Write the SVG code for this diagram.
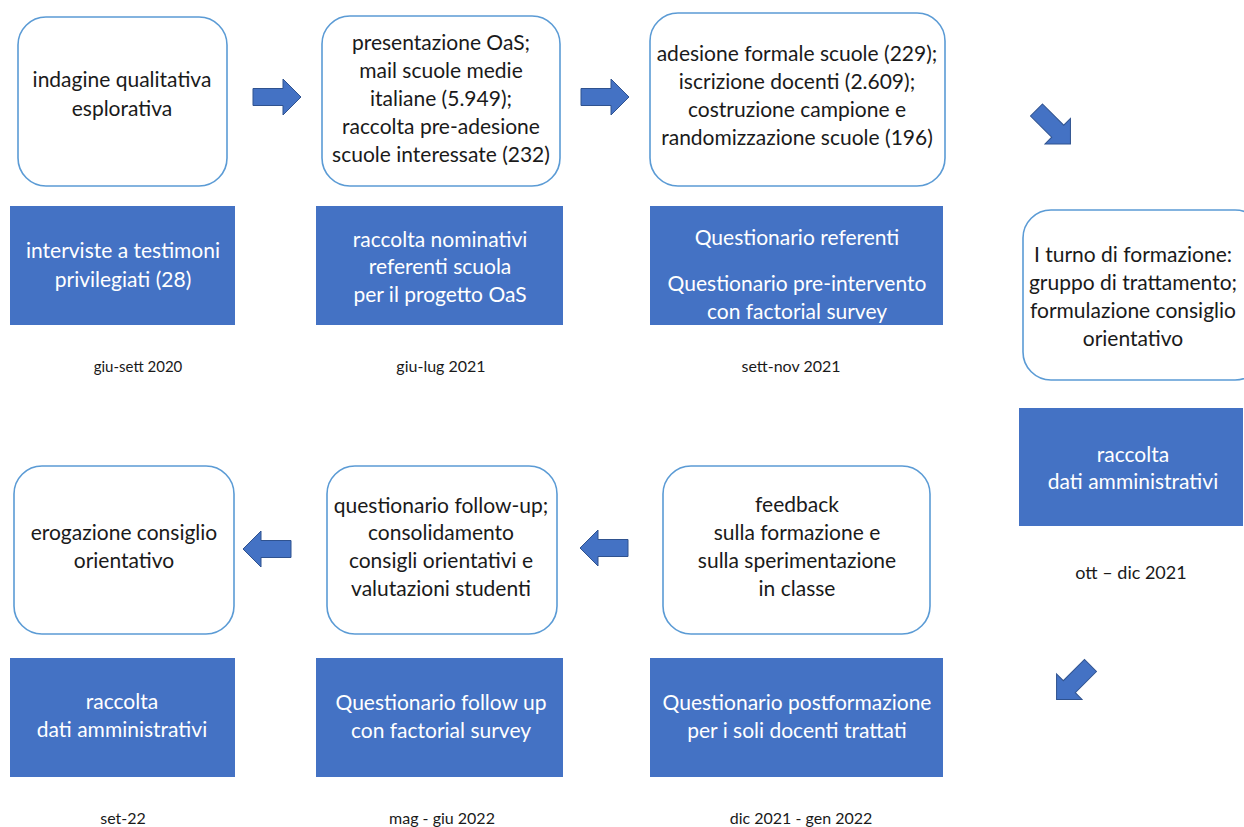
<svg xmlns="http://www.w3.org/2000/svg" width="1244" height="827" viewBox="0 0 1244 827">
  <defs>
    <style>
      .step { fill: #FFFFFF; stroke: #5B9BD5; stroke-width: 1.6; }
      .data { fill: #4472C4; }
      .arrow { fill: #4472C4; stroke: #2F528F; stroke-width: 1; }
      text { font-family: Lato, "Open Sans", "Liberation Sans", sans-serif; text-anchor: middle; }
      .dark { fill: #1A1A1A; font-size: 21px; }
      .light { fill: #FFFFFF; font-size: 21px; }
      .date { fill: #1A1A1A; font-size: 16px; }
    </style>
    <!-- block arrow pointing right, tail centre at origin -->
    <polygon id="blockArrow" points="0,-8.5 30,-8.5 30,-18 48,0 30,18 30,8.5 0,8.5"/>
  </defs>

  <rect width="1244" height="827" fill="#FFFFFF"/>

  <!-- connectors -->
  <g id="connectors">
    <use href="#blockArrow" class="arrow" transform="translate(253,97)"/>
    <use href="#blockArrow" class="arrow" transform="translate(581,97)"/>
    <use href="#blockArrow" class="arrow" transform="translate(1036.5,110) rotate(45)"/>
    <use href="#blockArrow" class="arrow" transform="translate(1090.5,665.5) rotate(135)"/>
    <use href="#blockArrow" class="arrow" transform="translate(628,548) rotate(180)"/>
    <use href="#blockArrow" class="arrow" transform="translate(291,549) rotate(180)"/>
  </g>

  <!-- phase 1: exploratory survey -->
  <g id="phase1">
    <rect class="step" x="18" y="17" width="209" height="169" rx="28"/>
    <text class="dark" x="122" y="87">indagine qualitativa</text>
    <text class="dark" x="122" y="116">esplorativa</text>
    <rect class="data" x="10" y="206" width="225" height="119"/>
    <text class="light" x="123" y="258">interviste a testimoni</text>
    <text class="light" x="123" y="287">privilegiati (28)</text>
    <text class="date" x="138" y="372" style="font-size:15px">giu-sett 2020</text>
  </g>

  <!-- phase 2: presentation and pre-adhesion -->
  <g id="phase2">
    <rect class="step" x="322" y="16" width="238" height="170" rx="28"/>
    <text class="dark" x="441" y="50">presentazione OaS;</text>
    <text class="dark" x="441" y="78">mail scuole medie</text>
    <text class="dark" x="441" y="106">italiane (5.949);</text>
    <text class="dark" x="441" y="134">raccolta pre-adesione</text>
    <text class="dark" x="441" y="162">scuole interessate (232)</text>
    <rect class="data" x="316" y="206" width="247" height="119"/>
    <text class="light" x="440" y="247">raccolta nominativi</text>
    <text class="light" x="440" y="274">referenti scuola</text>
    <text class="light" x="440" y="302">per il progetto OaS</text>
    <text class="date" x="441" y="372">giu-lug 2021</text>
  </g>

  <!-- phase 3: formal adhesion and sampling -->
  <g id="phase3">
    <rect class="step" x="650" y="13" width="295" height="173" rx="28"/>
    <text class="dark" x="797" y="61">adesione formale scuole (229);</text>
    <text class="dark" x="797" y="89">iscrizione docenti (2.609);</text>
    <text class="dark" x="797" y="117">costruzione campione e</text>
    <text class="dark" x="797" y="145">randomizzazione scuole (196)</text>
    <rect class="data" x="650" y="206" width="293" height="119"/>
    <text class="light" x="797" y="245">Questionario referenti</text>
    <text class="light" x="797" y="291">Questionario pre-intervento</text>
    <text class="light" x="797" y="319">con factorial survey</text>
    <text class="date" x="791" y="372">sett-nov 2021</text>
  </g>

  <!-- phase 4: first training round -->
  <g id="phase4">
    <rect class="step" x="1023" y="210" width="240" height="170" rx="28"/>
    <text class="dark" x="1133" y="262">I turno di formazione:</text>
    <text class="dark" x="1133" y="290">gruppo di trattamento;</text>
    <text class="dark" x="1133" y="318">formulazione consiglio</text>
    <text class="dark" x="1133" y="346">orientativo</text>
    <rect class="data" x="1019" y="408" width="224" height="118"/>
    <text class="light" x="1133" y="462">raccolta</text>
    <text class="light" x="1133" y="489">dati amministrativi</text>
    <text class="date" x="1131" y="579" style="font-size:18px">ott – dic 2021</text>
  </g>

  <!-- phase 5: training feedback -->
  <g id="phase5">
    <rect class="step" x="663" y="466" width="267" height="168" rx="28"/>
    <text class="dark" x="797" y="512">feedback</text>
    <text class="dark" x="797" y="540">sulla formazione e</text>
    <text class="dark" x="797" y="568">sulla sperimentazione</text>
    <text class="dark" x="797" y="596">in classe</text>
    <rect class="data" x="650" y="658" width="293" height="119"/>
    <text class="light" x="797" y="710">Questionario postformazione</text>
    <text class="light" x="797" y="738">per i soli docenti trattati</text>
    <text class="date" x="801" y="824">dic 2021 - gen 2022</text>
  </g>

  <!-- phase 6: follow-up -->
  <g id="phase6">
    <rect class="step" x="327" y="466" width="230" height="168" rx="28"/>
    <text class="dark" x="441" y="513">questionario follow-up;</text>
    <text class="dark" x="441" y="540">consolidamento</text>
    <text class="dark" x="441" y="568">consigli orientativi e</text>
    <text class="dark" x="441" y="596">valutazioni studenti</text>
    <rect class="data" x="316" y="658" width="247" height="119"/>
    <text class="light" x="441" y="710">Questionario follow up</text>
    <text class="light" x="441" y="738">con factorial survey</text>
    <text class="date" x="442" y="824">mag - giu 2022</text>
  </g>

  <!-- phase 7: delivery of guidance advice -->
  <g id="phase7">
    <rect class="step" x="14" y="466" width="220" height="168" rx="28"/>
    <text class="dark" x="124" y="540">erogazione consiglio</text>
    <text class="dark" x="124" y="568">orientativo</text>
    <rect class="data" x="10" y="658" width="225" height="119"/>
    <text class="light" x="122" y="709">raccolta</text>
    <text class="light" x="122" y="737">dati amministrativi</text>
    <text class="date" x="123" y="824">set-22</text>
  </g>
</svg>
